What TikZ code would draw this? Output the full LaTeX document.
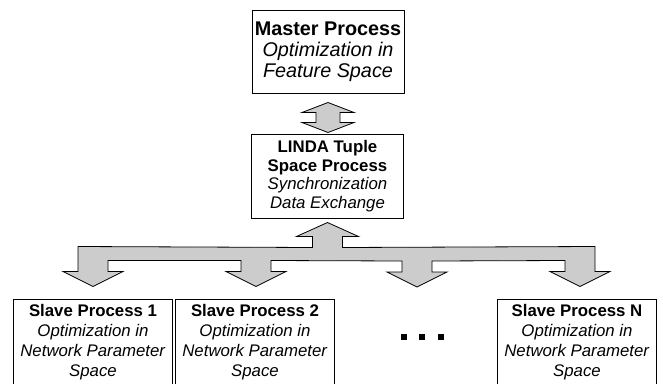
\documentclass[tikz,border=0pt]{standalone}
\usepackage{fontspec}
\setmainfont{Liberation Sans}
\usetikzlibrary{calc}

\tikzset{
  procbox/.style={draw, line width=1pt, inner sep=0pt, align=center},
  slavebox/.style={procbox, minimum width=159pt, minimum height=86pt, font=\fontsize{16.8}{20}\selectfont},
  fatarrow/.style={draw, line width=0.8pt, fill=gray!40},
  dot/.style={fill=black, inner sep=0pt, minimum size=6pt}
}

\begin{document}
\begin{tikzpicture}[x=1pt, y=-1pt]
            \clip (0,0) rectangle (663,383);

            % Master
            \node[procbox, minimum width=152pt, minimum height=83pt, font=\fontsize{19.8}{21}\selectfont] (master) at (328,51.5) {\textbf{Master Process}\\ \textit{Optimization in}\\ \textit{Feature Space}};

            % Tuple space
            \node[procbox, minimum width=152pt, minimum height=84pt, font=\fontsize{16.8}{18.5}\selectfont] (linda) at (327.5,176) {\textbf{LINDA Tuple}\\ \textbf{Space Process}\\ \textit{Synchronization}\\ \textit{Data Exchange}};

            % Slaves
            \node[slavebox] (slave1) at (93,342) {\textbf{Slave Process 1}\\ \textit{Optimization in}\\ \textit{Network Parameter}\\ \textit{Space}};
            \node[slavebox] (slave2) at (255,342) {\textbf{Slave Process 2}\\ \textit{Optimization in}\\ \textit{Network Parameter}\\ \textit{Space}};
            \node[slavebox] (slaveN) at (577,342) {\textbf{Slave Process N}\\ \textit{Optimization in}\\ \textit{Network Parameter}\\ \textit{Space}};

            \node[dot] (dot1) at (403.7,336.7) {};
            \node[dot] (dot2) at (422,336.7) {};
            \node[dot] (dot3) at (441,336.7) {};

            % Master <-> tuple space
            \draw[fatarrow] ($(master.south)+(0,9)$) -- ++(26,10) -- ++(-14,0) -- ++(0,10) -- ++(14,0) -- ++(-26,10)
                -- ++(-26,-10) -- ++(14,0) -- ++(0,-10) -- ++(-14,0) -- cycle;

            % Tuple space <-> slaves
            \coordinate (up) at ($(linda.south)+(0,4)$);
            \coordinate (d1) at ($(slave1.north)+(0,-12)$);
            \coordinate (d2) at ($(slave2.north)+(1,-12)$);
            \coordinate (d3) at (417,287);
            \coordinate (dN) at ($(slaveN.north)+(3,-12)$);
            \draw[fatarrow] (up) -- ++(31,14) -- ++(-16,0) -- ++(0,11)
                -- ($(dN)+(15,-40)$) -- ++(0,25) -- ++(15,0) -- (dN) -- ++(-30,-15) -- ++(15,0) -- ++(0,-11)
                -- ($(d3)+(15,-26)$) -- ++(0,11) -- ++(15,0) -- (d3) -- ++(-30,-15) -- ++(15,0) -- ++(0,-11)
                -- ($(d2)+(15,-26)$) -- ++(0,11) -- ++(15,0) -- (d2) -- ++(-30,-15) -- ++(15,0) -- ++(0,-11)
                -- ($(d1)+(15,-26)$) -- ++(0,11) -- ++(15,0) -- (d1) -- ++(-30,-15) -- ++(15,0) -- ++(0,-25)
                -- ($(up)+(-15,25)$) -- ++(0,-11) -- ++(-16,0) -- cycle;
        \end{tikzpicture}
\end{document}
